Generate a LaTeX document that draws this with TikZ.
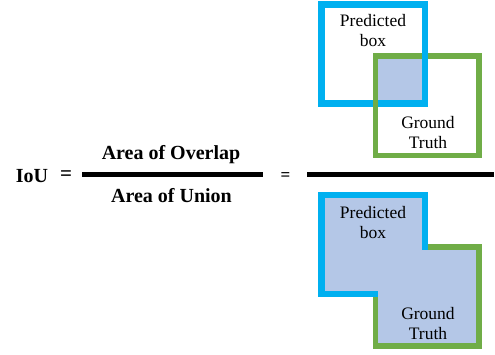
\documentclass[tikz,border=0pt]{standalone}
\usepackage{fontspec}
\setmainfont{Liberation Serif}
\usetikzlibrary{positioning,calc}
\definecolor{predblue}{HTML}{00B0F0}
\definecolor{truthgreen}{HTML}{70AD47}
\definecolor{overlapfill}{HTML}{B4C7E7}

\begin{document}
\begin{tikzpicture}[x=1pt,y=-1pt,
    predbox/.style={draw=predblue, line width=6.6pt},
    truthbox/.style={draw=truthgreen, line width=5.7pt},
    boxlabel/.style={font=\fontsize{17.5}{20}\selectfont, align=center, inner sep=0pt, anchor=north},
    bigtext/.style={font=\fontsize{20}{24}\selectfont\bfseries, inner sep=0pt, anchor=base},
    bar/.style={line width=4.5pt}]
    \useasboundingbox (0,0) rectangle (495,354);

    % Formula
    \node[bigtext] (iou) at (32,182) {IoU};
    \node[font=\fontsize{21}{24}\selectfont\bfseries, inner sep=0pt] (eqleft) at (66,176) {=};
    \node[bigtext] (overlap) at (171,159) {Area of Overlap};
    \node[bigtext] (union) at (171.5,202) {Area of Union};
    \coordinate (fracl) at (82,174.5);
    \coordinate (fracr) at (263,174.5);
    \draw[bar] (fracl) -- (fracr);
    \node[font=\fontsize{17}{20}\selectfont\bfseries, inner sep=0pt] (eqright) at (285.5,177) {=};
    \coordinate (bigl) at (307,174.5);
    \coordinate (bigr) at (494,174.5);
    \draw[bar] (bigl) -- (bigr);

    % Overlap (top)
    \fill[overlapfill] (375.5,56.2) rectangle (425,103.4);
    \draw[truthbox] (375.5,56.2) rectangle (478.8,155.5);
    \draw[predbox] (321.3,4.3) rectangle (425,103.4);
    \draw[truthbox] (375.5,96) -- (375.5,110);
    \node[boxlabel] (predtop) at (373,14.5) {Predicted\\box};
    \node[boxlabel] (truthtop) at (428,116.3) {Ground\\Truth};

    % Union (bottom)
    \fill[overlapfill] (321.3,194.8) -- (425,194.8) -- (425,246.7) -- (478.8,246.7)
        -- (478.8,346) -- (375.5,346) -- (375.5,293.9) -- (321.3,293.9) -- cycle;
    \draw[truthbox] (428.3,246.7) -- (478.8,246.7) -- (478.8,346) -- (375.5,346) -- (375.5,297.2);
    \draw[predbox] (425,249.5) -- (425,194.8) -- (321.3,194.8) -- (321.3,293.9) -- (378.3,293.9);
    \node[boxlabel] (predbot) at (373,206) {Predicted\\box};
    \node[boxlabel] (truthbot) at (428,307.3) {Ground\\Truth};
\end{tikzpicture}
\end{document}
